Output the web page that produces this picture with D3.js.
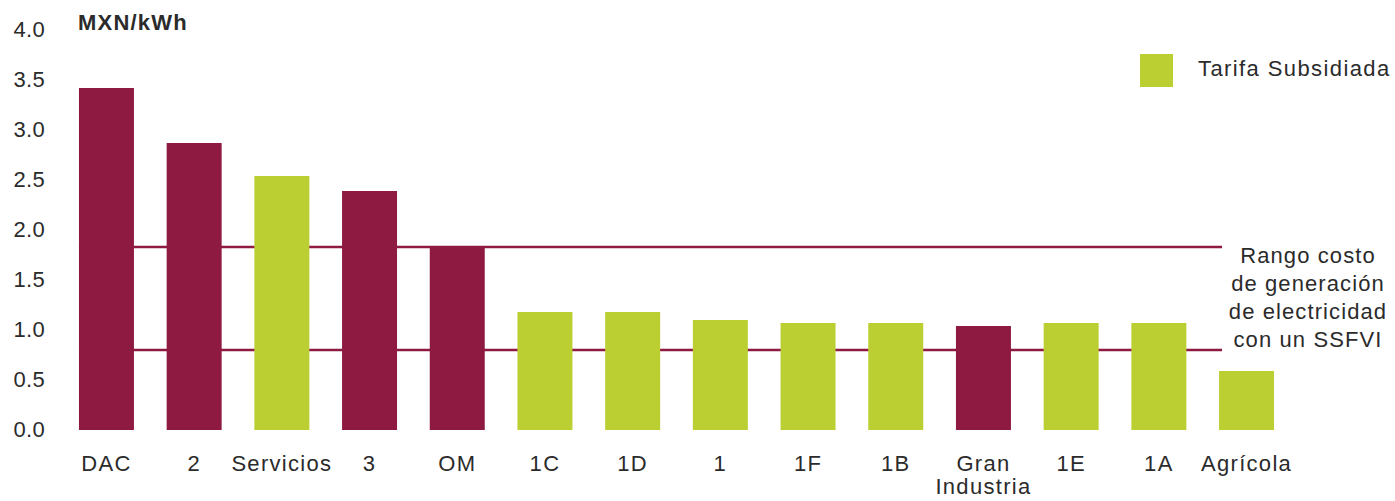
<!DOCTYPE html>
<html>
<head>
<meta charset="utf-8">
<script src="https://cdn.jsdelivr.net/npm/d3@7"></script>
<style>
  html, body { margin: 0; padding: 0; background: #fff; }
  svg { display: block; font-family: "Liberation Sans", Arial, sans-serif; }
</style>
</head>
<body>
<svg id="chart" width="1395" height="501"></svg>
<script>
// Tariff categories, average price in MXN/kWh, and whether the tariff is subsidised
const categories = ["DAC", "2", "Servicios", "3", "OM", "1C", "1D", "1", "1F", "1B", "Gran Industria", "1E", "1A", "Agrícola"];
const values     = [3.42, 2.87, 2.54, 2.39, 1.82, 1.18, 1.18, 1.10, 1.07, 1.07, 1.04, 1.07, 1.07, 0.59];
const subsidized = [false, false, true, false, false, true, true, true, true, true, false, true, true, true];
// Range of generation cost with a grid-connected PV system
const costRange  = [0.80, 1.83];
const yTicks     = [0, 0.5, 1, 1.5, 2, 2.5, 3, 3.5, 4];

const MAROON = "#8e1941";
const GREEN  = "#bbcf32";
const TEXT   = "#2b2b2b";

const svg = d3.select("#chart");

const x = d3.scaleBand()
  .domain(categories)
  .range([62.6, 1290.4])
  .paddingInner(0.373)
  .paddingOuter(0.1865);

const y = d3.scaleLinear().domain([0, 4]).range([430, 30]);

// Y axis: labels only
const yAxis = svg.append("g")
  .attr("transform", "translate(45,0)")
  .call(d3.axisLeft(y).tickValues(yTicks).tickFormat(d3.format(".1f")).tickSize(0).tickPadding(0));
yAxis.select(".domain").remove();
yAxis.selectAll("text")
  .attr("font-size", 22).attr("fill", TEXT)
  .attr("font-family", "Liberation Sans, Arial, sans-serif")
  .attr("letter-spacing", 0.3)
  .attr("dy", "0.3em");

// Unit label
svg.append("text")
  .attr("x", 78).attr("y", 30)
  .attr("font-size", 22).attr("font-weight", "bold")
  .attr("letter-spacing", 1.2)
  .attr("fill", TEXT)
  .text("MXN/kWh");

// Cost range lines, drawn behind the bars
const lineStart = x(categories[0]);
const lineEnd = x(categories[categories.length - 1]) + 3;
svg.append("g").selectAll("line")
  .data(costRange)
  .join("line")
  .attr("x1", lineStart).attr("x2", lineEnd)
  .attr("y1", d => y(d)).attr("y2", d => y(d))
  .attr("stroke", MAROON).attr("stroke-width", 2.5);

// Bars
svg.append("g").selectAll("rect")
  .data(categories.map((c, i) => ({ c, v: values[i], s: subsidized[i] })))
  .join("rect")
  .attr("x", d => x(d.c))
  .attr("width", x.bandwidth())
  .attr("y", d => y(d.v))
  .attr("height", d => y(0) - y(d.v))
  .attr("fill", d => d.s ? GREEN : MAROON);

// X axis: category labels, multi-word names broken over lines
const xAxis = svg.append("g")
  .attr("transform", "translate(0,430)")
  .call(d3.axisBottom(x).tickSize(0).tickPadding(0));
xAxis.select(".domain").remove();
xAxis.selectAll(".tick text")
  .attr("font-size", 22).attr("fill", TEXT)
  .attr("font-family", "Liberation Sans, Arial, sans-serif")
  .attr("letter-spacing", 1.3)
  .attr("y", 41).attr("dy", null)
  .each(function(d) {
    const words = d.split(" ");
    if (words.length < 2) return;
    const t = d3.select(this).text(null);
    words.forEach((w, i) => {
      t.append("tspan").attr("x", 0).attr("dy", i === 0 ? 0 : 23).text(w);
    });
  });

// Legend
const legend = svg.append("g").attr("transform", "translate(1140,54)");
legend.append("rect").attr("width", 33).attr("height", 33).attr("fill", GREEN);
legend.append("text")
  .attr("x", 58).attr("y", 22)
  .attr("font-size", 22).attr("letter-spacing", 1.4)
  .attr("fill", TEXT)
  .text("Tarifa Subsidiada");

// Annotation for the cost range
const noteLines = ["Rango costo", "de generación", "de electricidad", "con un SSFVI"];
svg.append("text")
  .attr("x", 1308).attr("y", 263)
  .attr("text-anchor", "middle")
  .attr("font-size", 22).attr("letter-spacing", 1.1)
  .attr("fill", TEXT)
  .selectAll("tspan")
  .data(noteLines)
  .join("tspan")
  .attr("x", 1308)
  .attr("dy", (d, i) => i === 0 ? 0 : 28)
  .text(d => d);
</script>
</body>
</html>
